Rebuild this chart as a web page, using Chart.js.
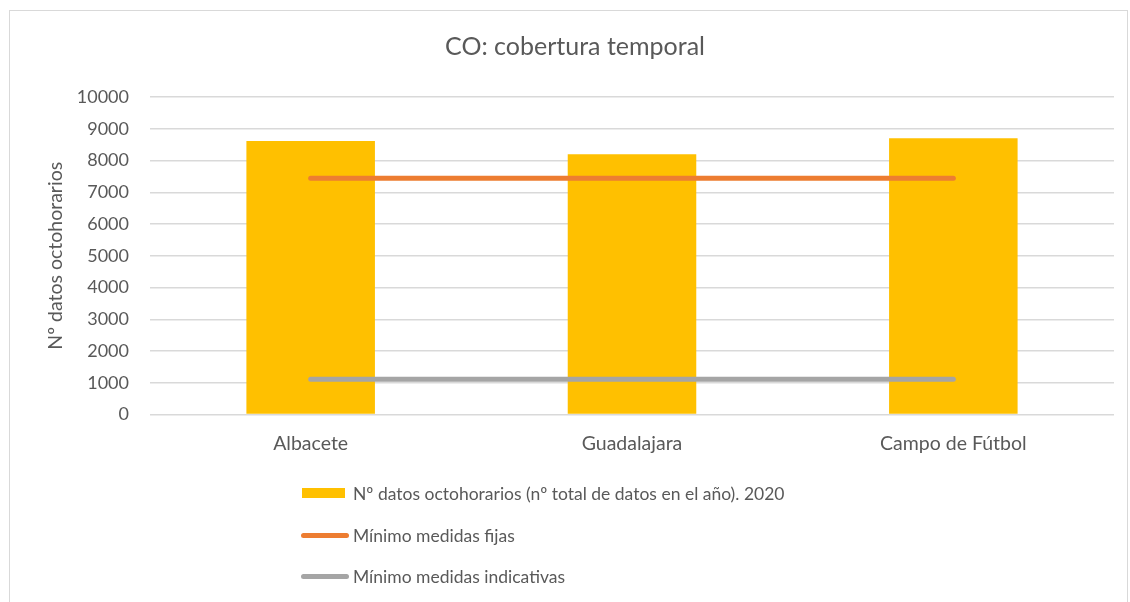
<!DOCTYPE html>
<html lang="es">
<head>
    <meta charset="UTF-8">
    <title>CO: cobertura temporal</title>
    <style>
        body {
            margin: 0;
            background: #ffffff;
            font-family: Lato, "Open Sans", sans-serif;
        }

        .wrap {
            position: relative;
            width: 1130px;
            height: 602px;
            overflow: hidden;
        }

        .frame {
            position: absolute;
            left: 9px;
            top: 10px;
            width: 1117px;
            height: 620px;
            border: 1px solid #d9d9d9;
        }

        canvas {
            position: absolute;
            left: 0;
            top: 0;
        }

        .legend {
            position: absolute;
            left: 301px;
            top: 480px;
            color: #595959;
            font-size: 17.5px;
        }

        .legend-item {
            position: absolute;
            left: 0;
            white-space: nowrap;
            display: flex;
            align-items: center;
            height: 20px;
        }

        .legend-item .mark {
            display: inline-block;
            width: 48px;
            margin-right: 4px;
        }
    </style>
</head>
<body>
    <div class="wrap">
        <div class="frame"></div>
        <canvas id="chart" width="1130" height="602"></canvas>
        <div class="legend" id="legend"></div>
    </div>

    <script src="https://cdn.jsdelivr.net/npm/chart.js"></script>

    <script>
        // Datos
        const categories = ['Albacete', 'Guadalajara', 'Campo de Fútbol'];
        const datosOctohorarios = [8615, 8200, 8705];
        const minimoFijas = [7440, 7440, 7440];
        const minimoIndicativas = [1110, 1110, 1110];
        const yTicks = [0, 1000, 2000, 3000, 4000, 5000, 6000, 7000, 8000, 9000, 10000];

        const seriesNames = [
            'Nº datos octohorarios (nº total de datos en el año). 2020',
            'Mínimo medidas fijas',
            'Mínimo medidas indicativas'
        ];
        const colors = ['#ffc000', '#ed7d31', '#a5a5a5'];
        const textColor = '#595959';
        const fontFamily = 'Lato, "Open Sans", sans-serif';

        const ctx = document.getElementById('chart').getContext('2d');
        new Chart(ctx, {
            data: {
                labels: categories,
                datasets: [
                    {
                        type: 'line',
                        label: seriesNames[1],
                        data: minimoFijas,
                        borderColor: colors[1],
                        borderWidth: 5,
                        borderCapStyle: 'round',
                        pointRadius: 0,
                        fill: false,
                        order: 1
                    },
                    {
                        type: 'line',
                        label: seriesNames[2],
                        data: minimoIndicativas,
                        borderColor: colors[2],
                        borderWidth: 5,
                        borderCapStyle: 'round',
                        pointRadius: 0,
                        fill: false,
                        order: 2
                    },
                    {
                        type: 'bar',
                        label: seriesNames[0],
                        data: datosOctohorarios,
                        backgroundColor: colors[0],
                        barPercentage: 0.4,
                        categoryPercentage: 1,
                        order: 3
                    }
                ]
            },
            options: {
                responsive: false,
                animation: false,
                layout: {
                    padding: { left: 36, right: 16, top: 32, bottom: 130 }
                },
                plugins: {
                    legend: { display: false },
                    tooltip: { enabled: false },
                    title: {
                        display: true,
                        text: 'CO: cobertura temporal',
                        color: textColor,
                        font: { family: fontFamily, size: 25, weight: 'normal' },
                        padding: { top: 0, bottom: 35 }
                    }
                },
                scales: {
                    x: {
                        grid: { display: false, drawTicks: false },
                        border: { display: false },
                        ticks: {
                            color: textColor,
                            padding: 17,
                            font: { family: fontFamily, size: 19.5 }
                        }
                    },
                    y: {
                        min: 0,
                        max: 10000,
                        afterBuildTicks: (scale) => {
                            scale.ticks = yTicks.map(v => ({ value: v }));
                        },
                        afterFit: (scale) => {
                            scale.width = 114;
                        },
                        grid: { color: '#d9d9d9', lineWidth: 1.5, drawTicks: false },
                        border: { display: false },
                        ticks: {
                            color: textColor,
                            padding: 21,
                            font: { family: fontFamily, size: 18 },
                            callback: (value) => String(value)
                        },
                        title: {
                            display: true,
                            text: 'Nº datos octohorarios',
                            color: textColor,
                            padding: { top: 8, bottom: 0 },
                            font: { family: fontFamily, size: 19.5 }
                        }
                    }
                }
            }
        });

        // Leyenda vertical, como en el original
        const legend = document.getElementById('legend');
        const legendTops = [3, 45, 86];
        seriesNames.forEach((name, i) => {
            const item = document.createElement('div');
            item.className = 'legend-item';
            item.style.top = legendTops[i] + 'px';
            const mark = document.createElement('span');
            mark.className = 'mark';
            if (i === 0) {
                mark.style.height = '10px';
                mark.style.width = '43px';
                mark.style.marginLeft = '1px';
                mark.style.marginRight = '8px';
                mark.style.background = colors[i];
            } else {
                mark.style.height = '5px';
                mark.style.borderRadius = '3px';
                mark.style.background = colors[i];
            }
            item.appendChild(mark);
            item.appendChild(document.createTextNode(name));
            legend.appendChild(item);
        });
    </script>
</body>
</html>
